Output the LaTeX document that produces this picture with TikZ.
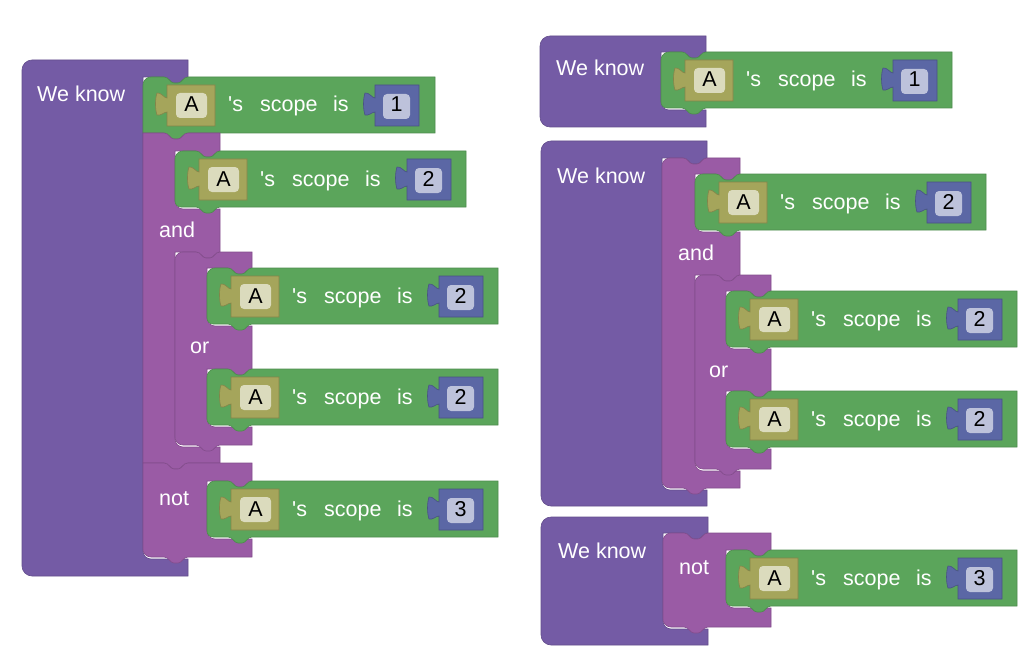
\documentclass[tikz,border=0pt]{standalone}
\usepackage{fontspec}
\setmainfont{Liberation Sans}[Ligatures=TeXOff]
\definecolor{wk}{HTML}{745BA5}
\definecolor{pu}{HTML}{9A5BA5}
\definecolor{gr}{HTML}{5BA55B}
\definecolor{ol}{HTML}{A5A55B}
\definecolor{bl}{HTML}{5B67A5}
\definecolor{olf}{HTML}{DBDBBD}
\definecolor{blf}{HTML}{BDC2DB}
% notch in a top edge (path going right), parent tab / bottom tab (path going left)
\newcommand\Nt[2]{-- ({#1+21},{#2}) .. controls ({#1+26},{#2}) and ({#1+27},{#2+6}) .. ({#1+31},{#2+6}) -- ({#1+35},{#2+6}) .. controls ({#1+39},{#2+6}) and ({#1+40},{#2}) .. ({#1+45},{#2})}
\newcommand\Tb[2]{-- ({#1+45},{#2}) .. controls ({#1+40},{#2}) and ({#1+39},{#2+6}) .. ({#1+35},{#2+6}) -- ({#1+31},{#2+6}) .. controls ({#1+27},{#2+6}) and ({#1+26},{#2}) .. ({#1+21},{#2})}
\newcommand\Fil[2]{-- ({#1},{#2-8}) .. controls ({#1},{#2-3.6}) and ({#1+3.6},{#2}) .. ({#1+8},{#2})}
\newcommand\TL[3]{({#1},{#2+#3}) .. controls ({#1},{#2+0.45*#3}) and ({#1+0.45*#3},{#2}) .. ({#1+#3},{#2})}
\newcommand\BL[3]{-- ({#1+#3},{#2}) .. controls ({#1+0.45*#3},{#2}) and ({#1},{#2-0.45*#3}) .. ({#1},{#2-#3})}
% puzzle tab on the left edge of a value block (left edge x, top y)
\newcommand\Pt[2]{-- ({#1},{#2+27}) .. controls ({#1-3},{#2+27}) and ({#1-6},{#2+31}) .. ({#1-10},{#2+30}) .. controls ({#1-12},{#2+24}) and ({#1-12},{#2+14}) .. ({#1-10},{#2+8}) .. controls ({#1-6},{#2+7}) and ({#1-3},{#2+13}) .. ({#1},{#2+13})}
\tikzset{
  wks/.style={fill=wk, draw=wk!85!black, line width=0.6pt},
  pus/.style={fill=pu, draw=pu!85!black, line width=0.6pt},
  grs/.style={fill=gr, draw=gr!85!black, line width=0.6pt},
  ols/.style={fill=ol, draw=ol!80!black, line width=0.6pt},
  bls/.style={fill=bl, draw=bl!80!black, line width=0.6pt},
  lbl/.style={text=white, inner sep=0pt, anchor=base west, font=\fontsize{21.5}{24}\selectfont},
  fld/.style={text=black, inner sep=0pt, anchor=base, font=\fontsize{21.5}{24}\selectfont},
}
% green "'s scope is" block: x0, y0, number, name, bottom-left radius, width
\newcommand\gblk[6]{%
  \filldraw[grs] \TL{#1}{#2}{8} \Nt{#1}{#2} -- ({#1+#6},{#2}) -- ({#1+#6},{#2+56}) \Tb{#1}{#2+56} \BL{#1}{#2+56}{#5} -- cycle;
  \filldraw[ols] ({#1+24},{#2+8}) -- ({#1+72},{#2+8}) -- ({#1+72},{#2+49}) -- ({#1+24},{#2+49}) \Pt{#1+24}{#2+8} -- cycle;
  \fill[olf, rounded corners=4pt] ({#1+33},{#2+16}) rectangle ({#1+64},{#2+41});
  \node[fld] (#4a) at ({#1+48.5},{#2+35}) {A};
  \node[lbl] (#4s) at ({#1+85},{#2+35}) {'s};
  \node[lbl] (#4sc) at ({#1+117},{#2+35}) {scope};
  \node[lbl] (#4is) at ({#1+190},{#2+35}) {is};
  \filldraw[bls] ({#1+232},{#2+8}) -- ({#1+276},{#2+8}) -- ({#1+276},{#2+49}) -- ({#1+232},{#2+49}) \Pt{#1+232}{#2+8} -- cycle;
  \fill[blf, rounded corners=4pt] ({#1+240},{#2+17}) rectangle ({#1+267},{#2+42});
  \node[fld] (#4n) at ({#1+253.5},{#2+35}) {#3};
}
\begin{document}
\begin{tikzpicture}[x=1pt, y=-1pt]
\useasboundingbox (0,0) rectangle (1036,658);
\fill[white] (0,0) rectangle (1036,658);

% ---------------- left diagram ----------------
\filldraw[wks] \TL{22}{60}{10} -- (188,60) -- (188,77) \Tb{143}{77} -- (143,77) \Fil{143}{559} -- (188,559) -- (188,576) \BL{22}{576}{10} -- cycle;
\node[lbl] (wk1) at (37,102) {We know};
\gblk{143}{77}{1}{g1}{0}{292}
% and
\filldraw[pus] \TL{143}{133}{0} \Nt{143}{133} -- (220,133) -- (220,151) \Tb{175}{151} -- (175,151) \Fil{175}{209} -- (220,209) -- (220,252) \Tb{175}{252} -- (175,252) \Fil{175}{447} -- (220,447) -- (220,463) \Tb{143}{463} \BL{143}{463}{0} -- cycle;
\node[lbl] (and1) at (159,237) {and};
\gblk{175}{151}{2}{g2}{6}{291}
% or
\filldraw[pus] \TL{175}{252}{8} \Nt{175}{252} -- (252,252) -- (252,268) \Tb{207}{268} -- (207,268) \Fil{207}{326} -- (252,326) -- (252,369) \Tb{207}{369} -- (207,369) \Fil{207}{427} -- (252,427) -- (252,445) \Tb{175}{445} \BL{175}{445}{8} -- cycle;
\node[lbl] (or1) at (190,353) {or};
\gblk{207}{268}{2}{g3}{6}{291}
\gblk{207}{369}{2}{g4}{6}{291}
% not
\filldraw[pus] \TL{143}{463}{0} \Nt{143}{463} -- (252,463) -- (252,481) \Tb{207}{481} -- (207,481) \Fil{207}{539} -- (252,539) -- (252,557) \Tb{143}{557} \BL{143}{557}{8} -- cycle;
\node[lbl] (not1) at (159,505) {not};
\gblk{207}{481}{3}{g5}{6}{291}

% ---------------- right diagram ----------------
\filldraw[wks] \TL{540}{36}{10} -- (706,36) -- (706,52) \Tb{661}{52} -- (661,52) \Fil{661}{110} -- (706,110) -- (706,127) \BL{540}{127}{10} -- cycle;
\node[lbl] (wk2) at (556,76) {We know};
\gblk{661}{52}{1}{g6}{6}{291}

\filldraw[wks] \TL{541}{141}{10} -- (707,141) -- (707,158) \Tb{662}{158} -- (662,158) \Fil{662}{490} -- (707,490) -- (707,506) \BL{541}{506}{10} -- cycle;
\node[lbl] (wk3) at (557,183) {We know};
\filldraw[pus] \TL{662}{158}{8} \Nt{662}{158} -- (740,158) -- (740,174) \Tb{695}{174} -- (695,174) \Fil{695}{232} -- (740,232) -- (740,275) \Tb{695}{275} -- (695,275) \Fil{695}{471} -- (740,471) -- (740,488) \Tb{662}{488} \BL{662}{488}{8} -- cycle;
\node[lbl] (and2) at (678,260) {and};
\gblk{695}{174}{2}{g7}{6}{291}
\filldraw[pus] \TL{695}{275}{8} \Nt{695}{275} -- (771,275) -- (771,291) \Tb{726}{291} -- (726,291) \Fil{726}{349} -- (771,349) -- (771,391) \Tb{726}{391} -- (726,391) \Fil{726}{449} -- (771,449) -- (771,469) \Tb{695}{469} \BL{695}{469}{8} -- cycle;
\node[lbl] (or2) at (709,377) {or};
\gblk{726}{291}{2}{g8}{6}{291}
\gblk{726}{391}{2}{g9}{6}{291}

\filldraw[wks] \TL{541}{517}{10} -- (708,517) -- (708,533) \Tb{663}{533} -- (663,533) \Fil{663}{629} -- (708,629) -- (708,645) \BL{541}{645}{10} -- cycle;
\node[lbl] (wk4) at (558,558) {We know};
\filldraw[pus] \TL{663}{533}{8} \Nt{663}{533} -- (771,533) -- (771,550) \Tb{726}{550} -- (726,550) \Fil{726}{608} -- (771,608) -- (771,627) \Tb{663}{627} \BL{663}{627}{8} -- cycle;
\node[lbl] (not2) at (679,574) {not};
\gblk{726}{550}{3}{g10}{6}{291}
\end{tikzpicture}
\end{document}
